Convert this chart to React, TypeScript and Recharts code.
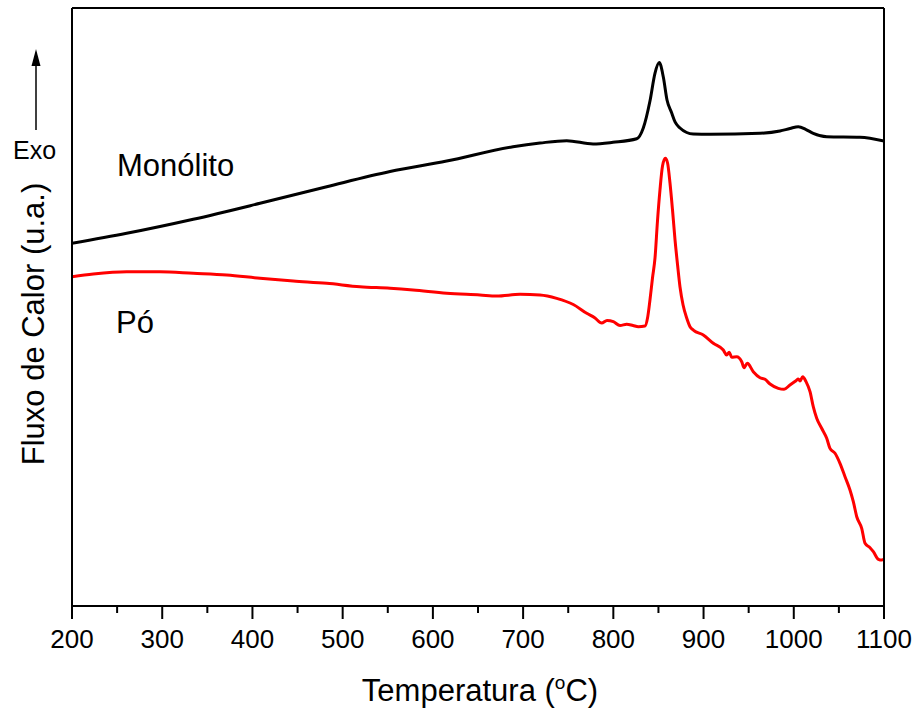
import React from 'react';
import { LineChart, Line, XAxis, YAxis, Label } from 'recharts';

// Temperatures (°C) and heat flow (arbitrary units)
const monolitoT = [200, 260.6, 334.4, 408.4, 482.3, 552.5, 615.3, 688.8, 718.7, 748.3, 777.5, 799.6, 825.9, 833.2, 840.6, 846.2, 850.9, 855.4, 859.5, 864.7, 868.4, 873.9, 881.3, 888.6, 907.1, 962.6, 984.7, 995.8, 1005, 1013.6, 1021.6, 1036.5, 1073.4, 1100];
const monolitoV = [60.65, 62.32, 64.67, 67.34, 70.12, 72.66, 74.41, 76.81, 77.42, 77.81, 77.26, 77.54, 78.13, 79.93, 84.45, 89.13, 90.89, 88.46, 84.62, 82.44, 80.94, 79.93, 79.18, 78.93, 78.88, 79.05, 79.43, 79.85, 80.15, 79.68, 79.05, 78.48, 78.38, 77.76];

const poT = [200, 223.6, 260.6, 297.5, 334.4, 371.5, 408.4, 445.3, 482.3, 519.2, 552.5, 578, 615.3, 652.2, 670.7, 696.6, 718.7, 737.2, 755.6, 770.5, 779.7, 787.1, 793, 800, 807.4, 814.8, 821.8, 827.7, 835.1, 837.9, 840.6, 843.4, 846.2, 848.9, 851.7, 854.5, 857.6, 860.1, 862.8, 865.6, 868.4, 871.2, 873.9, 877.3, 881.3, 885, 889, 899.7, 910.8, 921.9, 925.6, 928.5, 931.2, 936.7, 942.3, 944.8, 948.5, 955.1, 962.6, 968.1, 973.7, 982.8, 989.2, 995.8, 1002.5, 1005, 1006.9, 1009.9, 1013.6, 1018, 1021.6, 1025.4, 1030.9, 1036.5, 1040.1, 1045.7, 1051.2, 1056.8, 1062.3, 1066, 1069.8, 1075.3, 1079, 1084.5, 1088.2, 1093.8, 1097.5, 1100];
const poV = [55.07, 55.52, 55.9, 55.9, 55.64, 55.35, 54.8, 54.35, 53.96, 53.39, 53.13, 52.84, 52.29, 52.01, 51.84, 52.12, 52.01, 51.45, 50.42, 48.95, 48.16, 47.32, 47.74, 47.54, 46.91, 47.12, 46.91, 46.71, 46.82, 48.16, 51.17, 54.85, 58.2, 64.3, 69.57, 73.58, 74.87, 74.08, 70.74, 66.22, 61.2, 57.02, 53.34, 50.33, 48.16, 46.71, 46.1, 45.32, 43.93, 42.81, 41.97, 42.42, 41.59, 41.69, 40.85, 39.85, 40.59, 39.18, 38.18, 37.91, 37.12, 36.4, 36.24, 36.96, 37.68, 37.96, 37.63, 38.34, 37.51, 35.84, 33.33, 31.39, 29.72, 28.04, 26.37, 25.54, 23.86, 21.62, 19.4, 17.44, 14.93, 12.99, 10.48, 9.75, 9.08, 7.81, 7.69, 7.78];

const xTicks = [200, 250, 300, 350, 400, 450, 500, 550, 600, 650, 700, 750, 800, 850, 900, 950, 1000, 1050, 1100];
const xMajorTicks = [200, 300, 400, 500, 600, 700, 800, 900, 1000, 1100];

const seriesNames = ['Monólito', 'Pó'];
const xTitle = 'Temperatura (';
const yTitle = 'Fluxo de Calor (u.a.)';
const exoLabel = 'Exo';

const monolitoData = monolitoT.map((t, i) => ({ t, v: monolitoV[i] }));
const poData = poT.map((t, i) => ({ t, v: poV[i] }));

const FONT = '"Liberation Sans", Arial, sans-serif';

const XTick = (props: any) => {
  const { x, y, payload } = props;
  const val = payload.value;
  const major = xMajorTicks.includes(val);
  return (
    <g>
      <line x1={x} x2={x} y1={y} y2={y + (major ? 13 : 7)} stroke="#000" strokeWidth={2} />
      {major && (
        <text x={x} y={y + 42} textAnchor="middle" fontSize={26} fontFamily={FONT} fill="#000">
          {val}
        </text>
      )}
    </g>
  );
};

const XTitle = (props: any) => {
  const vb = props.viewBox;
  return (
    <text x={vb.x + vb.width / 2 + 2} y={vb.y + 95} textAnchor="middle" fontSize={31} fontFamily={FONT} fill="#000">
      {xTitle}
      <tspan fontSize={19} dy={-12}>o</tspan>
      <tspan dy={12}>C)</tspan>
    </text>
  );
};

const YTitle = (props: any) => {
  const vb = props.viewBox;
  const cx = vb.x - 27;
  const cy = vb.y + vb.height / 2 + 17;
  return (
    <text x={cx} y={cy} transform={`rotate(-90, ${cx}, ${cy})`} textAnchor="middle" fontSize={31} fontFamily={FONT} fill="#000">
      {yTitle}
    </text>
  );
};

export default function App() {
  return (
    <div style={{ position: 'absolute', left: 0, top: 0, width: 915, height: 711, background: '#fff' }}>
      <LineChart width={915} height={711} margin={{ top: 7, right: 30, bottom: 0, left: 71 }}>
        <XAxis
          dataKey="t"
          type="number"
          domain={[200, 1100]}
          ticks={xTicks}
          interval={0}
          tick={<XTick />}
          tickLine={false}
          tickSize={0}
          tickMargin={0}
          height={105}
          axisLine={{ stroke: '#000', strokeWidth: 2 }}
          allowDataOverflow
        >
          <Label content={<XTitle />} />
        </XAxis>
        <XAxis
          xAxisId="top"
          orientation="top"
          type="number"
          domain={[200, 1100]}
          tick={false}
          tickLine={false}
          height={1}
          axisLine={{ stroke: '#000', strokeWidth: 2 }}
        />
        <YAxis
          type="number"
          domain={[0, 100]}
          tick={false}
          tickLine={false}
          width={1}
          axisLine={{ stroke: '#000', strokeWidth: 2 }}
          allowDataOverflow
        >
          <Label content={<YTitle />} />
        </YAxis>
        <YAxis
          yAxisId="right"
          orientation="right"
          type="number"
          domain={[0, 100]}
          tick={false}
          tickLine={false}
          width={1}
          axisLine={{ stroke: '#000', strokeWidth: 2 }}
        />
        <Line data={monolitoData} dataKey="v" name={seriesNames[0]} type="monotone" stroke="#000" strokeWidth={3} dot={false} isAnimationActive={false} />
        <Line data={poData} dataKey="v" name={seriesNames[1]} type="monotone" stroke="#ff0000" strokeWidth={3} dot={false} isAnimationActive={false} />
      </LineChart>
      <svg width={915} height={711} style={{ position: 'absolute', left: 0, top: 0, pointerEvents: 'none' }}>
        <text x={13} y={159} fontSize={25} fontFamily={FONT} fill="#000">{exoLabel}</text>
        <line x1={36} x2={36} y1={130} y2={62} stroke="#000" strokeWidth={1.5} />
        <polygon points="36,49 31.5,66 40.5,66" fill="#000" />
        <text x={117} y={176} fontSize={31} fontFamily={FONT} fill="#000">{seriesNames[0]}</text>
        <text x={116} y={333} fontSize={31} fontFamily={FONT} fill="#000">{seriesNames[1]}</text>
      </svg>
    </div>
  );
}
